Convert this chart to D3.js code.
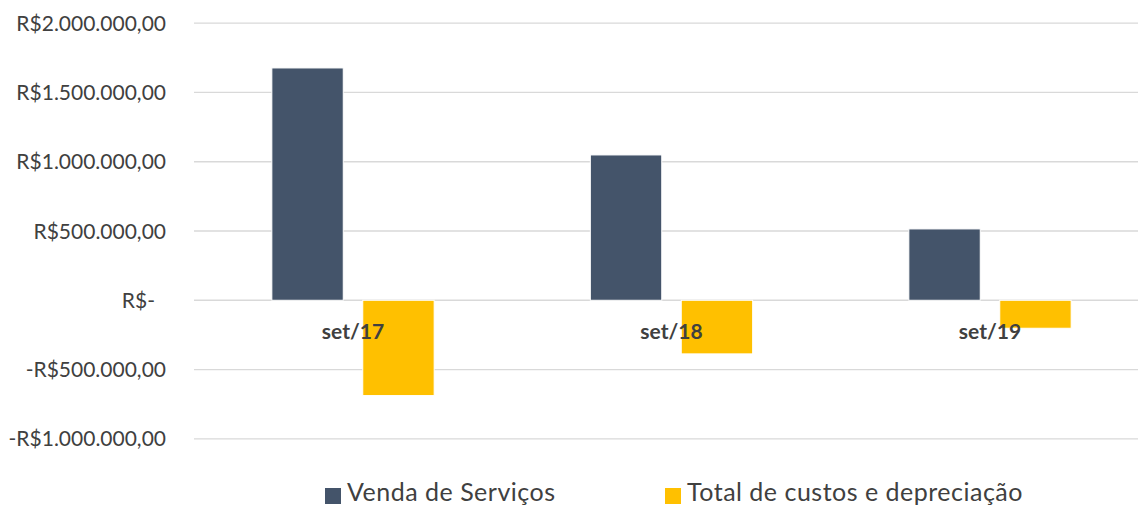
<!DOCTYPE html>
<html>
<head>
<meta charset="utf-8">
<script src="https://cdn.jsdelivr.net/npm/d3@7"></script>
<style>
  html, body { margin: 0; padding: 0; background: #fff; }
  svg { display: block; }
  text { font-family: Lato, "Open Sans", sans-serif; fill: #404040; }
</style>
</head>
<body>
<svg id="chart" width="1138" height="507"></svg>
<script>
// ---- data ----
const categories = ["set/17", "set/18", "set/19"];
const seriesNames = ["Venda de Serviços", "Total de custos e depreciação"];
const vendaServicos = [1677000, 1049000, 515000];
const totalCustos = [-688000, -387000, -202000];
const yTicks = [-1000000, -500000, 0, 500000, 1000000, 1500000, 2000000];
const colors = ["#44546A", "#FFC000"];

const seriesValues = [vendaServicos, totalCustos];

const svg = d3.select("#chart");
const W = 1138, H = 507;

const y = d3.scaleLinear().domain([-1000000, 2000000]).range([438.8, 23.2]);
const x0 = d3.scaleBand().domain(categories).range([193.75, 1149.25]).padding(0);
const x1 = d3.scaleBand().domain(seriesNames).range([0, x0.bandwidth()])
  .paddingInner(0.2145).paddingOuter(0.859);

function fmtBRL(v) {
  if (v === 0) return "R$-";
  const s = d3.format(",.2f")(Math.abs(v)); // 1,000,000.00
  const br = s.replace(/,/g, "#").replace(".", ",").replace(/#/g, ".");
  return (v < 0 ? "-" : "") + "R$" + br;
}

// gridlines
svg.append("g").selectAll("line").data(yTicks).join("line")
  .attr("x1", 194).attr("x2", W)
  .attr("y1", d => y(d)).attr("y2", d => y(d))
  .attr("stroke", "#D9D9D9").attr("stroke-width", 1.3);

// y axis labels
const yAxis = d3.axisLeft(y).tickValues(yTicks).tickFormat(fmtBRL).tickSize(0).tickPadding(0);
const ga = svg.append("g").attr("transform", "translate(166,0)").call(yAxis);
ga.select(".domain").remove();
ga.selectAll("text")
  .attr("font-size", 21).attr("font-family", "Lato, 'Open Sans', sans-serif")
  .attr("fill", "#404040")
  .attr("dy", "0.34em")
  .attr("dx", d => d === 0 ? -11 : 0);

// bars
const groups = svg.append("g").selectAll("g").data(categories).join("g")
  .attr("transform", d => `translate(${x0(d)},0)`);

groups.selectAll("rect")
  .data((c, i) => seriesNames.map((s, j) => ({ s, v: seriesValues[j][i], j })))
  .join("rect")
  .attr("x", d => x1(d.s))
  .attr("width", x1.bandwidth())
  .attr("y", d => Math.min(y(d.v), y(0)))
  .attr("height", d => Math.abs(y(d.v) - y(0)))
  .attr("fill", d => colors[d.j])
  .attr("stroke", "#fff").attr("stroke-width", 1);

// category labels
svg.append("g").selectAll("text").data(categories).join("text")
  .attr("x", d => x0(d) + x0.bandwidth() / 2)
  .attr("y", 339)
  .attr("text-anchor", "middle")
  .attr("font-size", 21).attr("font-weight", "bold")
  .text(d => d);

// legend
const legendX = [325, 665];
const lg = svg.append("g").selectAll("g").data(seriesNames).join("g")
  .attr("transform", (d, i) => `translate(${legendX[i]},0)`);
lg.append("rect").attr("x", 0).attr("y", 488).attr("width", 16).attr("height", 16)
  .attr("fill", (d, i) => colors[i]);
lg.append("text").attr("x", 22).attr("y", 501).attr("font-size", 25)
  .attr("letter-spacing", "0.5px").text(d => d);
</script>
</body>
</html>
